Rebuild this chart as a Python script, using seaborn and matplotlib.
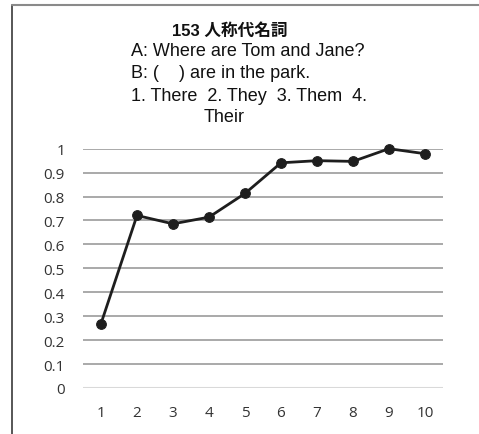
import matplotlib
matplotlib.use("Agg")
import matplotlib.pyplot as plt
from matplotlib.lines import Line2D
import seaborn as sns
import pandas as pd

# question number / item
items = [1, 2, 3, 4, 5, 6, 7, 8, 9, 10]
rates = [0.269, 0.721, 0.686, 0.714, 0.813, 0.941, 0.950, 0.947, 1.0, 0.979]
y_ticks = [0, 0.1, 0.2, 0.3, 0.4, 0.5, 0.6, 0.7, 0.8, 0.9, 1]
y_labels = ["0", "0.1", "0.2", "0.3", "0.4", "0.5", "0.6", "0.7", "0.8", "0.9", "1"]

title_lines = [
    "153 人称代名詞",
    "A: Where are Tom and Jane?",
    "B: (    ) are in the park.",
    "1. There  2. They  3. Them  4.",
    "Their",
]

df = pd.DataFrame({"item": items, "rate": rates})

sns.set_style("white")
W, H = 479, 435
fig = plt.figure(figsize=(W / 100, H / 100), dpi=100)
ax = fig.add_axes([83 / W, 1 - 389 / H, 360 / W, (389 - 149.7) / H])

for t in y_ticks[1:]:
    ax.axhline(t, color="#a3a3a3", lw=1.3, zorder=0)
ax.axhline(0, color="#d9d9d9", lw=1.5, zorder=0)

sns.lineplot(data=df, x="item", y="rate", ax=ax, color="#1e1e1e",
             lw=2.0, marker="o", markersize=7, markeredgecolor="#1e1e1e",
             clip_on=False, zorder=3)

ax.set_xlim(0.5, 10.5)
ax.set_ylim(0, 1)
ax.set_xticks(items)
ax.set_xticklabels([str(i) for i in items])
ax.set_yticks(y_ticks)
ax.set_yticklabels(y_labels)
ax.tick_params(length=0, labelsize=11, colors="#333333")
ax.tick_params(axis="x", pad=12)
ax.tick_params(axis="y", pad=13)
for lab in ax.get_xticklabels() + ax.get_yticklabels():
    lab.set_fontfamily("Open Sans")
ax.set_xlabel("")
ax.set_ylabel("")
for s in ax.spines.values():
    s.set_visible(False)

# chart frame (left and top edge only visible)
fig.add_artist(Line2D([11.5 / W, 11.5 / W], [0, 1 - 5.5 / H], color="#3a3a3a", lw=1.2))
fig.add_artist(Line2D([11.5 / W, 1], [1 - 5.5 / H, 1 - 5.5 / H], color="#8a8a8a", lw=1.5))

fam = ["Liberation Sans", "Noto Sans CJK JP"]
pos = [(172, 36, 12, "bold"), (131, 56, 13, "normal"), (131, 78, 13, "normal"),
       (131, 101, 13, "normal"), (204, 122, 13, "normal")]
for txt, (x, y, fs, fw) in zip(title_lines, pos):
    fig.text(x / W, 1 - y / H, txt, ha="left", va="baseline", fontsize=fs,
             fontweight=fw, family=fam, color="#111111")

fig.savefig("out.png", dpi=100)
